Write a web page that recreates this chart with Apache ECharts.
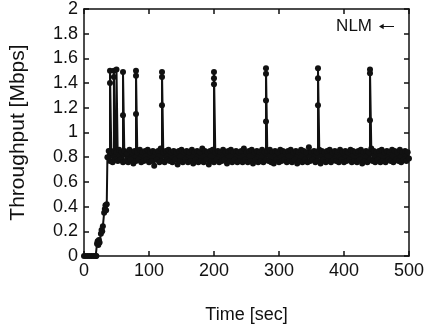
<!DOCTYPE html>
<html>
<head>
<meta charset="utf-8">
<script src="https://cdn.jsdelivr.net/npm/echarts@6/dist/echarts.min.js"></script>
<style>
html,body{margin:0;padding:0;background:#fff;}
#chart{width:427px;height:329px;}
</style>
</head>
<body>
<div id="chart"></div>
<script>
// Ramp-up phase: time (sec) and throughput (Mbps)
var rampTimes  = [0, 3, 6, 9, 12, 15, 18, 19, 20, 21, 22, 23, 24, 26, 27, 28, 29, 31, 32, 33, 34, 35];
var rampValues = [0, 0, 0, 0, 0, 0, 0, 0, 0.10, 0.12, 0.09, 0.13, 0.11, 0.18, 0.21, 0.20, 0.24, 0.35, 0.38, 0.41, 0.37, 0.42];

// Steady phase: samples every 2 sec starting at 36 sec
var steadyStart = 36;
var steadyStep = 2;
var steadyValues = [
  0.80,0.85,0.77,0.84,0.76,0.85,0.78,0.84,0.77,0.86,
  0.78,0.84,0.76,0.85,0.77,0.83,0.76,0.86,0.78,0.84,
  0.75,0.85,0.77,0.84,0.78,0.86,0.76,0.84,0.77,0.85,
  0.78,0.86,0.76,0.84,0.77,0.85,0.73,0.84,0.78,0.85,
  0.76,0.87,0.77,0.84,0.76,0.85,0.78,0.86,0.77,0.84,
  0.76,0.85,0.78,0.84,0.74,0.85,0.77,0.86,0.76,0.84,
  0.78,0.85,0.76,0.84,0.77,0.86,0.75,0.84,0.78,0.85,
  0.76,0.84,0.77,0.87,0.76,0.85,0.78,0.84,0.74,0.85,
  0.77,0.86,0.76,0.84,0.78,0.85,0.76,0.84,0.77,0.86,
  0.78,0.84,0.75,0.85,0.77,0.86,0.76,0.84,0.78,0.85,
  0.76,0.84,0.77,0.85,0.76,0.87,0.78,0.84,0.76,0.85,
  0.77,0.86,0.75,0.84,0.78,0.85,0.76,0.84,0.77,0.86,
  0.76,0.84,0.78,0.85,0.77,0.86,0.76,0.84,0.75,0.85,
  0.78,0.84,0.76,0.86,0.77,0.85,0.78,0.84,0.76,0.85,
  0.77,0.86,0.76,0.84,0.78,0.85,0.75,0.84,0.77,0.86,
  0.76,0.85,0.78,0.84,0.76,0.88,0.77,0.84,0.78,0.85,
  0.76,0.84,0.77,0.86,0.75,0.85,0.78,0.84,0.76,0.85,
  0.77,0.86,0.76,0.84,0.78,0.85,0.77,0.84,0.76,0.86,
  0.78,0.84,0.76,0.85,0.77,0.84,0.78,0.86,0.76,0.85,
  0.77,0.84,0.76,0.85,0.78,0.86,0.75,0.84,0.77,0.85,
  0.76,0.84,0.78,0.87,0.77,0.85,0.76,0.84,0.78,0.85,
  0.76,0.86,0.77,0.84,0.76,0.85,0.78,0.84,0.77,0.86,
  0.76,0.85,0.78,0.84,0.77,0.86,0.76,0.84,0.78,0.85,
  0.77,0.84,0.79
];

// Periodic throughput spikes: time (sec) and the sampled values along each spike
var spikeTimes  = [40, 46, 50, 60, 80, 120, 200, 280, 360, 440];
var spikeValues = [
  [1.40, 1.50],
  [1.45, 1.50],
  [1.51],
  [1.14, 1.49],
  [1.15, 1.46, 1.50],
  [1.22, 1.45, 1.49],
  [1.39, 1.44, 1.49],
  [1.09, 1.26, 1.475, 1.52],
  [1.22, 1.44, 1.52],
  [1.10, 1.48, 1.51]
];

var xTicks = [0, 100, 200, 300, 400, 500];
var yTicks = [0, 0.2, 0.4, 0.6, 0.8, 1, 1.2, 1.4, 1.6, 1.8, 2];

var data = [];
for (var i = 0; i < rampTimes.length; i++) data.push([rampTimes[i], rampValues[i]]);
for (var j = 0; j < steadyValues.length; j++) {
  var t = steadyStart + j * steadyStep;
  data.push([t, steadyValues[j]]);
  var k = spikeTimes.indexOf(t);
  if (k >= 0) {
    for (var m = 0; m < spikeValues[k].length; m++) data.push([t, spikeValues[k][m]]);
  }
}

var FONT = 'Liberation Sans';
var axisCommon = {
  axisLine: {show: true, onZero: false, lineStyle: {color: '#111', width: 1.5}},
  axisTick: {show: true, inside: true, length: 5, lineStyle: {color: '#111', width: 1.5}},
  splitLine: {show: false}
};

var chart = echarts.init(document.getElementById('chart'), null, {renderer: 'canvas'});
chart.setOption({
  animation: false,
  backgroundColor: '#fff',
  textStyle: {fontFamily: FONT},
  grid: {left: 81, right: 16, top: 8, bottom: 63, containLabel: false},
  legend: {
    show: true,
    right: 28, top: 13,
    align: 'right',
    itemWidth: 15, itemHeight: 7, itemGap: 4,
    icon: 'path://M0,4 L5,1 L5,3.4 L16,3.4 L16,4.6 L5,4.6 L5,7 Z',
    textStyle: {fontFamily: FONT, fontSize: 17, color: '#111', padding: [0, 2, 0, 0]},
    data: [{name: 'NLM', itemStyle: {color: '#111'}}]
  },
  xAxis: [
    Object.assign({
      type: 'value', position: 'bottom', min: xTicks[0], max: xTicks[xTicks.length - 1], interval: 100,
      name: 'Time [sec]', nameLocation: 'middle', nameGap: 50,
      nameTextStyle: {fontFamily: FONT, fontSize: 18, color: '#111'},
      axisLabel: {fontFamily: FONT, fontSize: 18, color: '#111', margin: 6}
    }, axisCommon),
    Object.assign({
      type: 'value', position: 'top', min: xTicks[0], max: xTicks[xTicks.length - 1], interval: 100,
      axisLabel: {show: false}
    }, axisCommon)
  ],
  yAxis: [
    Object.assign({
      type: 'value', position: 'left', min: yTicks[0], max: yTicks[yTicks.length - 1], interval: 0.2,
      name: 'Throughput [Mbps]', nameLocation: 'middle', nameGap: 55, nameRotate: 90,
      nameTextStyle: {fontFamily: FONT, fontSize: 21, color: '#111'},
      axisLabel: {fontFamily: FONT, fontSize: 18, color: '#111', margin: 6}
    }, axisCommon),
    Object.assign({
      type: 'value', position: 'right', min: yTicks[0], max: yTicks[yTicks.length - 1], interval: 0.2,
      axisLabel: {show: false}
    }, axisCommon)
  ],
  series: [{
    name: 'NLM',
    type: 'line',
    xAxisIndex: 0, yAxisIndex: 0,
    data: data,
    showAllSymbol: true,
    symbol: 'circle',
    symbolSize: 6,
    lineStyle: {color: '#111', width: 2},
    itemStyle: {color: '#111'},
    clip: false
  }]
});
</script>
</body>
</html>
